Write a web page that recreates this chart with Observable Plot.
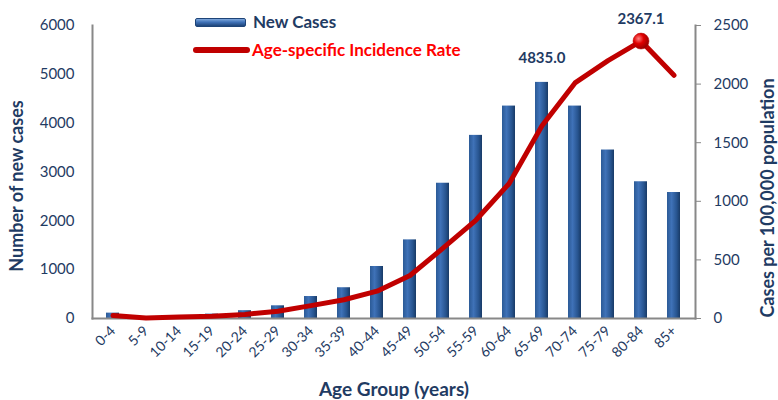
<!DOCTYPE html>
<html><head><meta charset="utf-8">
<script src="https://cdn.jsdelivr.net/npm/d3@7"></script>
<script src="https://cdn.jsdelivr.net/npm/@observablehq/plot@0.6"></script>
<style>
body{margin:0;background:#fff;font-family:Lato,"Open Sans",sans-serif;}
#wrap{position:relative;width:778px;height:400px;}
.leg{position:absolute;font-weight:bold;font-size:17px;white-space:nowrap;line-height:20px;}
</style></head>
<body><div id="wrap"></div>
<script>
const ageGroups = ["0-4","5-9","10-14","15-19","20-24","25-29","30-34","35-39","40-44","45-49","50-54","55-59","60-64","65-69","70-74","75-79","80-84","85+"];
const newCases = [110, 20, 30, 90, 160, 260, 450, 630, 1065, 1610, 2770, 3750, 4350, 4835, 4350, 3450, 2800, 2580];
const incidenceRate = [25, 5, 12, 20, 35, 62, 110, 160, 233, 367, 600, 840, 1150, 1645, 2010, 2200, 2367.1, 2075];
const leftTicks = [0,1000,2000,3000,4000,5000,6000];
const rightTicks = [0,500,1000,1500,2000,2500];
const ratio = 6000/2500;

const navy = "#1F3B63";
const cases = ageGroups.map((g,i)=>({g, v:newCases[i]}));
const rates = ageGroups.map((g,i)=>({g, r:incidenceRate[i], y:incidenceRate[i]*ratio}));
const peakCase = cases[13];
const peakRate = rates[16];

const defs = () => {
  const s = d3.create("svg:defs");
  const lg = s.append("linearGradient").attr("id","barGrad").attr("x1","0").attr("x2","1").attr("y1","0").attr("y2","0");
  lg.append("stop").attr("offset","0%").attr("stop-color","#2B5A96");
  lg.append("stop").attr("offset","35%").attr("stop-color","#3F72B8");
  lg.append("stop").attr("offset","75%").attr("stop-color","#27548F");
  lg.append("stop").attr("offset","100%").attr("stop-color","#183A66");
  const rg = s.append("radialGradient").attr("id","dotGrad").attr("cx","0.35").attr("cy","0.35").attr("r","0.7");
  rg.append("stop").attr("offset","0%").attr("stop-color","#FF8080");
  rg.append("stop").attr("offset","45%").attr("stop-color","#E00000");
  rg.append("stop").attr("offset","100%").attr("stop-color","#900000");
  return s.node();
};

const chart = Plot.plot({
  width: 778, height: 400,
  marginLeft: 92, marginRight: 83, marginTop: 25, marginBottom: 82,
  style: {fontFamily: "Lato, 'Open Sans', sans-serif", color: navy, background: "#fff"},
  x: {domain: ageGroups, paddingInner: 0.6, paddingOuter: 0.3},
  y: {domain: [0, 6000]},
  marks: [
    defs,
    Plot.barY(cases, {x:"g", y:"v", fill:"url(#barGrad)"}),
    Plot.frame({anchor:"left", stroke:"#888", strokeWidth:2}),
    Plot.frame({anchor:"right", stroke:"#888", strokeWidth:2}),
    Plot.frame({anchor:"bottom", stroke:"#888", strokeWidth:2}),
    Plot.axisY({ticks: leftTicks, tickSize: 0, tickPadding: 18, fontSize: 15, fill: navy, tickFormat: d3.format("d"),
      label: "Number of new cases", labelArrow: false, labelAnchor: "center", labelOffset: 82}),
    Plot.axisY(rightTicks.map(t=>t*ratio), {anchor:"right", tickSize: 5, tickPadding: 13, stroke:"#888", fontSize: 15, fill: navy,
      tickFormat: d => String(Math.round(d/ratio)),
      label: "Cases per 100,000 population", labelArrow: false, labelAnchor: "center", labelOffset: 78}),
    Plot.axisX({tickSize: 0, tickRotate: -45, tickPadding: 10, fontSize: 14, fill: navy,
      label: "Age Group (years)", labelArrow: false, labelAnchor: "center", labelOffset: 77}),
    Plot.line(rates, {x:"g", y:"y", stroke:"#C00000", strokeWidth:5, strokeLinejoin:"round", strokeLinecap:"round"}),
    Plot.dot([peakRate], {x:"g", y:"y", r:8, fill:"url(#dotGrad)", stroke:"#B00000", strokeWidth:0.5}),
    Plot.text([peakCase], {x:"g", y:"v", text: d=>d.v.toFixed(1), dy:-24, fontSize:15, fontWeight:"bold", fill:navy}),
    Plot.text([peakRate], {x:"g", y:"y", text: d=>d.r.toFixed(1), dy:-22, fontSize:15, fontWeight:"bold", fill:navy})
  ]
});
const titleStyle = (sel, size, dx) => chart.querySelectorAll(sel).forEach(g=>{
  g.querySelectorAll("text").forEach(t=>{
    t.style.fontSize = size + "px"; t.style.fontWeight = "bold"; t.setAttribute("fill", navy);
    t.textContent = t.textContent.replace(/\s*[→↑←↓]\s*/g, "");
    if (dx) t.setAttribute("dx", dx);
  });
});
const yLabels = chart.querySelectorAll('g[aria-label="y-axis label"]');
titleStyle('g[aria-label="x-axis label"]', 19, 0);
yLabels.forEach((g,i)=>{
  g.querySelectorAll("text").forEach(t=>{
    t.style.fontSize = "18px"; t.style.fontWeight = "bold"; t.setAttribute("fill", navy);
    t.textContent = t.textContent.replace(/\s*[→↑←↓]\s*/g, "");
    t.setAttribute("dx", i === 0 ? -14 : -26);
  });
});
const wrap = document.getElementById("wrap");
wrap.appendChild(chart);
wrap.insertAdjacentHTML("beforeend",
 `<div style="position:absolute;left:195px;top:18px;width:51px;height:9px;border-radius:2px;background:linear-gradient(#7FA8DC,#3F72B8 45%,#1E4478);border:1px solid #1E4478;box-sizing:border-box"></div>
  <div class="leg" style="left:253px;top:12px;color:${navy}">New Cases</div>
  <div style="position:absolute;left:193px;top:47px;width:57px;height:6px;border-radius:3px;background:#C00000"></div>
  <div class="leg" style="left:252px;top:40px;color:#FF0000">Age-specific Incidence Rate</div>`);
</script></body></html>
